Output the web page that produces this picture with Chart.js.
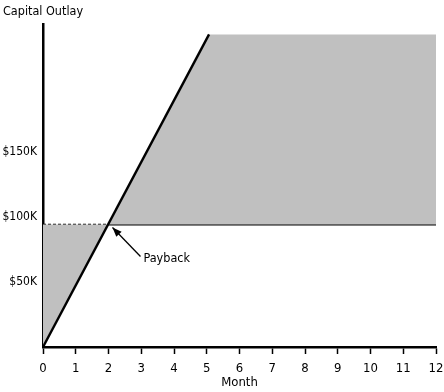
<!DOCTYPE html>
<html>
<head>
<meta charset="utf-8">
<script src="https://cdn.jsdelivr.net/npm/chart.js@4/dist/chart.umd.min.js"></script>
<style>
  html, body { margin: 0; padding: 0; background: #fff; }
</style>
</head>
<body>
<canvas id="paybackChart" width="444" height="392"></canvas>
<script>
  // Chart values (thousands of dollars vs month)
  const months = [0, 2, 5.07, 12];
  const returnK = [0, 94, 240, 240];   // cumulative return, shading capped at top
  const outlayK = [94, 94, 94, 94];    // capital outlay level
  const lineMonths = [0, 5.07];        // the drawn return line
  const lineK = [0, 240];
  const xTicks = [0, 1, 2, 3, 4, 5, 6, 7, 8, 9, 10, 11, 12];
  const yTicks = [50, 100, 150];
  const paybackMonth = 2;

  const FONT = "'DejaVu Sans Condensed', 'DejaVu Sans', sans-serif";
  const GRAY = '#c0c0c0';

  // Title and "Payback" callout
  const annotations = {
    id: 'annotations',
    afterDraw(chart) {
      const ctx = chart.ctx;
      const x = chart.scales.x;
      const y = chart.scales.y;
      ctx.save();
      ctx.fillStyle = '#000';
      ctx.font = '12.5px ' + FONT;
      ctx.textBaseline = 'middle';
      ctx.textAlign = 'left';
      ctx.fillText('Capital Outlay', 3, 12);

      // arrow to payback point
      const px = x.getPixelForValue(paybackMonth) + 4;
      const py = y.getPixelForValue(outlayK[1]) + 3;
      const tx = px + 28, ty = py + 29;
      ctx.strokeStyle = '#000';
      ctx.lineWidth = 1.3;
      ctx.beginPath();
      ctx.moveTo(tx, ty);
      ctx.lineTo(px, py);
      ctx.stroke();
      const ang = Math.atan2(py - ty, px - tx);
      ctx.beginPath();
      ctx.moveTo(px, py);
      ctx.lineTo(px - 10 * Math.cos(ang - 0.38), py - 10 * Math.sin(ang - 0.38));
      ctx.lineTo(px - 10 * Math.cos(ang + 0.38), py - 10 * Math.sin(ang + 0.38));
      ctx.closePath();
      ctx.fill();
      ctx.fillText('Payback', tx + 3, ty + 2);
      ctx.restore();
    }
  };

  const ctx = document.getElementById('paybackChart').getContext('2d');
  new Chart(ctx, {
    type: 'line',
    data: {
      datasets: [
        {
          label: 'Return line',
          data: lineMonths.map((m, i) => ({ x: m, y: lineK[i] })),
          borderColor: '#000',
          borderWidth: 2.4,
          pointRadius: 0,
          fill: false
        },
        {
          label: 'Return area',
          data: months.map((m, i) => ({ x: m, y: returnK[i] })),
          borderWidth: 0,
          borderColor: 'rgba(0,0,0,0)',
          backgroundColor: GRAY,
          pointRadius: 0,
          fill: '+1'
        },
        {
          label: 'Outlay',
          data: months.map((m, i) => ({ x: m, y: outlayK[i] })),
          borderColor: '#000',
          borderWidth: 2,
          pointRadius: 0,
          fill: false,
          segment: {
            borderDash: c => c.p1.parsed.x <= paybackMonth ? [3, 2] : undefined,
            borderWidth: c => c.p1.parsed.x <= paybackMonth ? 1.5 : 2
          }
        }
      ]
    },
    options: {
      responsive: false,
      animation: false,
      devicePixelRatio: 1,
      layout: { padding: { top: 24, right: 0, left: 0, bottom: 0 } },
      plugins: {
        legend: { display: false },
        tooltip: { enabled: false }
      },
      scales: {
        x: {
          type: 'linear',
          min: 0,
          max: 12,
          afterBuildTicks: s => { s.ticks = xTicks.map(v => ({ value: v })); },
          afterFit: s => { s.height = 45; s.paddingRight = 8; s.paddingLeft = 0; },
          border: { display: true, color: '#000', width: 2.5 },
          grid: { display: true, drawOnChartArea: false, drawTicks: true, tickLength: 7, tickColor: '#000', tickWidth: 1.5 },
          ticks: { color: '#000', font: { family: FONT, size: 13 }, padding: 7, maxRotation: 0 },
          title: { display: true, text: 'Month', color: '#000', font: { family: FONT, size: 13 }, padding: { top: 0, bottom: 2 } }
        },
        y: {
          min: 0,
          max: 248,
          afterBuildTicks: s => { s.ticks = yTicks.map(v => ({ value: v })); },
          afterFit: s => { s.width = 43; },
          border: { display: true, color: '#000', width: 2.5 },
          grid: { display: false, drawTicks: false, tickLength: 0 },
          ticks: { color: '#000', font: { family: FONT, size: 12 }, padding: 6, callback: v => '$' + v + 'K' }
        }
      }
    },
    plugins: [annotations]
  });
</script>
</body>
</html>
